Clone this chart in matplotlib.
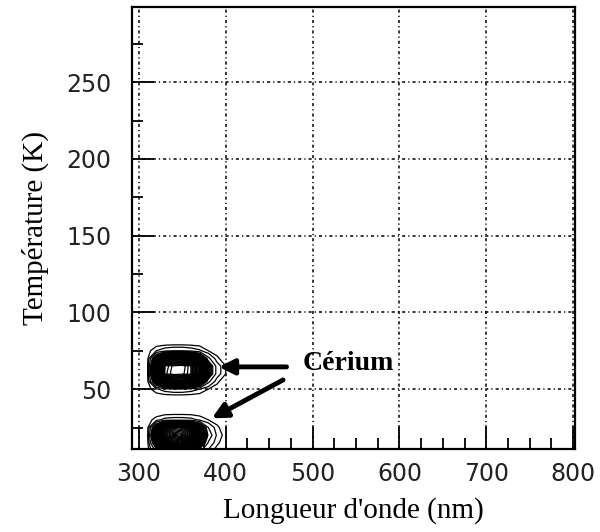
import numpy as np
import matplotlib.pyplot as plt
from matplotlib.ticker import MultipleLocator

# Longueurs d'onde (nm) et températures (K) de la grille mesurée
wavelengths = [300, 310, 320, 330, 340, 350, 360, 370, 380, 390, 400, 410, 420]
temperatures = [10, 15, 20, 25, 30, 35, 40, 45, 50, 55, 60, 65, 70, 75, 80, 85]

intensity = [
    [0, 0.1, 1.5, 3.0, 4.0, 4.0, 3.0, 1.5, 0.6, 0.1, 0, 0, 0],
    [0, 0.2, 3.5, 7.0, 8.0, 7.8, 6.5, 3.5, 1.2, 0.4, 0, 0, 0],
    [0, 0.3, 5.0, 9.2, 9.7, 9.5, 8.8, 5.5, 1.8, 0.6, 0.1, 0, 0],
    [0, 0.2, 3.5, 7.5, 8.5, 8.3, 7.2, 4.0, 1.3, 0.4, 0, 0, 0],
    [0, 0.1, 0.5, 0.9, 1.0, 1.0, 0.9, 0.6, 0.3, 0.1, 0, 0, 0],
    [0, 0, 0, 0, 0, 0, 0, 0, 0, 0, 0, 0, 0],
    [0, 0, 0, 0, 0, 0, 0, 0, 0, 0, 0, 0, 0],
    [0, 0, 0, 0, 0, 0, 0, 0, 0, 0, 0, 0, 0],
    [0, 0.1, 0.6, 1.0, 1.2, 1.2, 1.0, 0.7, 0.3, 0.1, 0, 0, 0],
    [0, 0.2, 3.5, 7.0, 7.8, 7.8, 7.0, 4.5, 1.5, 0.4, 0, 0, 0],
    [0, 0.3, 5.5, 9.3, 9.8, 9.7, 9.2, 7.0, 3.0, 1.0, 0.3, 0, 0],
    [0, 0.3, 5.5, 9.2, 9.7, 9.8, 9.2, 7.0, 3.0, 1.0, 0.3, 0, 0],
    [0, 0.2, 3.5, 7.0, 7.8, 7.8, 7.0, 4.5, 1.5, 0.4, 0, 0, 0],
    [0, 0.1, 0.7, 1.1, 1.3, 1.3, 1.1, 0.8, 0.3, 0.1, 0, 0, 0],
    [0, 0, 0, 0, 0, 0, 0, 0, 0, 0, 0, 0, 0],
    [0, 0, 0, 0, 0, 0, 0, 0, 0, 0, 0, 0, 0],
]

contour_levels = [0.3, 0.7, 1.3] + list(np.linspace(2.0, 9.6, 40))

x_ticks = [300, 400, 500, 600, 700, 800]
y_ticks = [50, 100, 150, 200, 250]

label_text = "Cérium"
label_pos = (488, 67)
arrow_starts = [(470, 64.5), (466, 56)]
arrow_tips = [(392, 64.5), (384, 31)]

fig = plt.figure(figsize=(6, 5.32), dpi=100)
ax = fig.add_axes([0.22, 0.156, 0.738, 0.831])

X, Y = np.meshgrid(wavelengths, temperatures)
ax.contour(X, Y, np.array(intensity), levels=contour_levels,
           colors="black", linewidths=0.9)

ax.set_xlim(292, 802)
ax.set_ylim(11, 299)
ax.set_xticks(x_ticks)
ax.set_yticks(y_ticks)
ax.xaxis.set_minor_locator(MultipleLocator(25))
ax.yaxis.set_minor_locator(MultipleLocator(25))

ax.grid(True, which="major", color="black", linewidth=1.1,
        linestyle=(0, (2.0, 2.0, 0.8, 2.0)))

ax.tick_params(which="major", direction="in", length=16, width=1.3,
               labelsize=17, pad=9, top=False, right=False,
               labelcolor="#222222")
ax.tick_params(axis="y", which="major", pad=15)
ax.tick_params(which="minor", direction="in", length=8, width=1.3,
               top=False, right=False)

for sp in ax.spines.values():
    sp.set_linewidth(1.6)

ax.set_xlabel("Longueur d'onde (nm)", family="Liberation Serif",
              fontsize=21, labelpad=8)
ax.set_ylabel("Température (K)", family="Liberation Serif",
              fontsize=21, labelpad=12)

ax.text(label_pos[0], label_pos[1], label_text, family="Liberation Serif",
        fontweight="bold", fontsize=20, va="center", ha="left")
for start, tip in zip(arrow_starts, arrow_tips):
    ax.annotate("", xy=tip, xytext=start,
                arrowprops=dict(arrowstyle="-|>,head_length=0.9,head_width=0.45",
                                color="black", lw=3.5, shrinkA=0, shrinkB=0))

fig.savefig("out.png", dpi=100)
